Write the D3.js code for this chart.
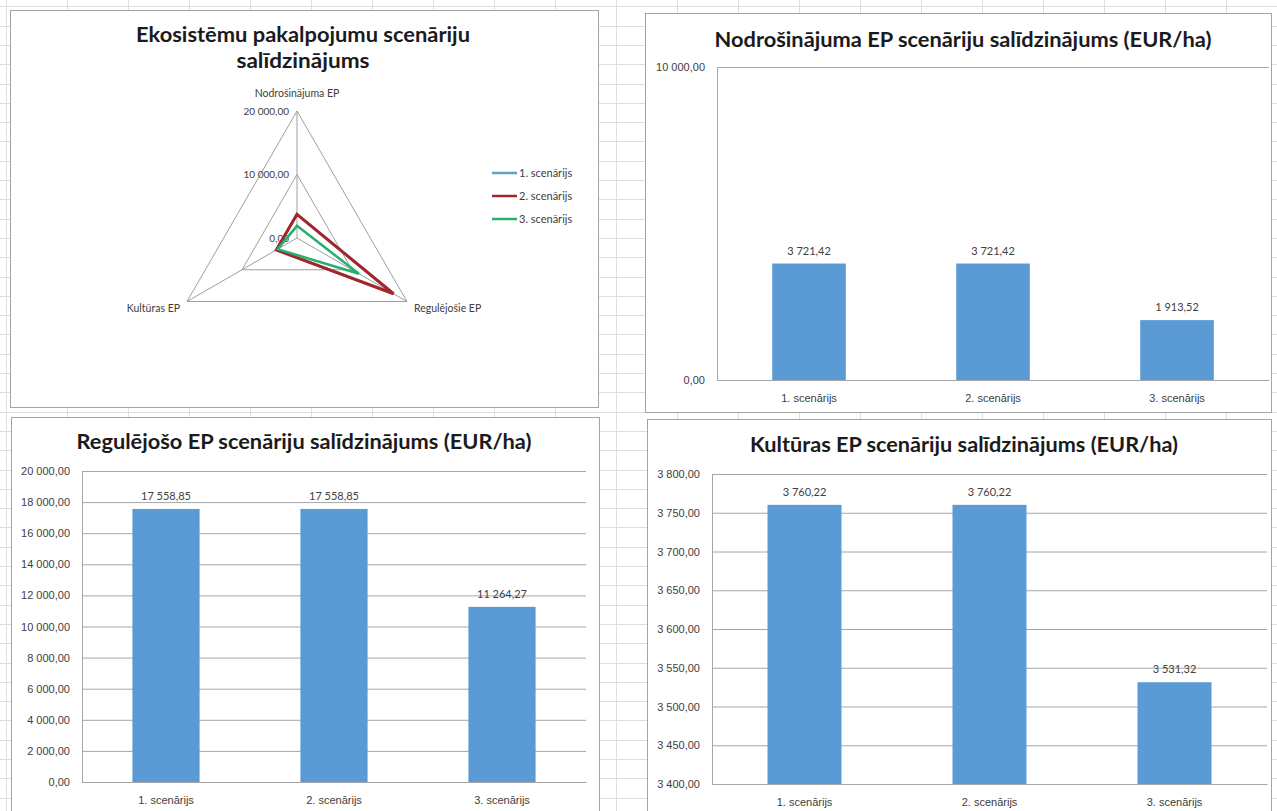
<!DOCTYPE html>
<html>
<head>
<meta charset="utf-8">
<script src="https://cdn.jsdelivr.net/npm/d3@7"></script>
<style>
  body { margin: 0; background: #fff; }
  svg { display: block; font-family: Lato, "Open Sans", sans-serif; }
</style>
</head>
<body>
<svg id="sheet" width="1277" height="811"></svg>
<script>
// ---- data ----
const scenarios = ["1. scenārijs", "2. scenārijs", "3. scenārijs"];
const radarAxes = ["Nodrošinājuma EP", "Regulējošie EP", "Kultūras EP"];
const nodrosinajumaEP = [3721.42, 3721.42, 1913.52];
const regulejosieEP = [17558.85, 17558.85, 11264.27];
const kulturasEP = [3760.22, 3760.22, 3531.32];
const radarTicks = [0, 10000, 20000];
const nodTicks = [0, 10000];
const regTicks = [0, 2000, 4000, 6000, 8000, 10000, 12000, 14000, 16000, 18000, 20000];
const kulTicks = [3400, 3450, 3500, 3550, 3600, 3650, 3700, 3750, 3800];
const seriesColors = ["#5fa3bd", "#a2262b", "#26b06e"];
const barColor = "#5b9bd5";

const lv = d3.formatLocale({ decimal: ",", thousands: " ", grouping: [3], currency: ["", " €"] });
const fmt = lv.format(",.2f");

const svg = d3.select("#sheet");

// ---- worksheet cell grid behind the charts ----
const cells = svg.append("g").attr("stroke", "#dedede").attr("stroke-width", 1);
cells.selectAll("line.col").data(d3.range(0, 22)).join("line")
  .attr("x1", d => 6.5 + 61 * d).attr("x2", d => 6.5 + 61 * d)
  .attr("y1", 0).attr("y2", 811);
cells.selectAll("line.row").data(d3.range(0, 43)).join("line")
  .attr("x1", 0).attr("x2", 1277)
  .attr("y1", d => Math.round(6.3 + 19.3 * d) + 0.5).attr("y2", d => Math.round(6.3 + 19.3 * d) + 0.5);

function chartBox(b) {
  svg.append("rect")
    .attr("x", b.x + 0.5).attr("y", b.y + 0.5).attr("width", b.w).attr("height", b.h)
    .attr("fill", "#fff").attr("stroke", "#a3a3a3").attr("stroke-width", 1);
}

function title(txt, x, y, width) {
  svg.append("text").attr("x", x).attr("y", y)
    .attr("text-anchor", "middle").attr("font-size", 21).attr("font-weight", 700)
    .attr("fill", "#1b1b1b")
    .attr("textLength", width).attr("lengthAdjust", "spacingAndGlyphs")
    .text(txt);
}

// ---- column charts ----
function barChart(o) {
  chartBox(o.box);
  title(o.title, o.titleX, o.titleY, o.titleW);
  const g = svg.append("g");
  const x = d3.scaleBand().domain(scenarios).range([o.x0, o.x1]).paddingInner(0.6).paddingOuter(0.3);
  const y = d3.scaleLinear().domain([o.ticks[0], o.ticks[o.ticks.length - 1]]).range([o.yBottom, o.yTop]);

  const ya = g.append("g").attr("transform", `translate(${o.x0},0)`)
    .call(d3.axisLeft(y).tickValues(o.ticks).tickFormat(fmt).tickSize(-(o.x1 - o.x0)).tickPadding(12));
  ya.select(".domain").attr("stroke", "#a6a6a6");
  ya.selectAll(".tick line").attr("stroke", "#a6a6a6");
  ya.selectAll(".tick text").attr("fill", "#404040").attr("font-size", 11);

  g.selectAll("rect.bar").data(o.values).join("rect")
    .attr("class", "bar")
    .attr("x", (d, i) => x(scenarios[i]))
    .attr("width", x.bandwidth())
    .attr("y", d => y(d))
    .attr("height", d => y(o.ticks[0]) - y(d))
    .attr("fill", barColor);

  const xa = g.append("g").attr("transform", `translate(0,${o.yBottom})`)
    .call(d3.axisBottom(x).tickSize(0).tickPadding(14));
  xa.select(".domain").attr("stroke", "#a6a6a6");
  xa.selectAll(".tick text").attr("fill", "#404040").attr("font-size", 11);

  g.selectAll("text.val").data(o.values).join("text")
    .attr("class", "val")
    .attr("x", (d, i) => x(scenarios[i]) + x.bandwidth() / 2)
    .attr("y", d => y(d) - 9)
    .attr("text-anchor", "middle").attr("font-size", 11).attr("fill", "#404040")
    .text(d => fmt(d));
}

barChart({
  box: { x: 645, y: 13, w: 626, h: 399 },
  title: "Nodrošinājuma EP scenāriju salīdzinājums (EUR/ha)", titleX: 963, titleY: 47, titleW: 497,
  x0: 717, x1: 1269, yTop: 67, yBottom: 380,
  ticks: nodTicks, values: nodrosinajumaEP
});

barChart({
  box: { x: 11, y: 417, w: 588, h: 420 },
  title: "Regulējošo EP scenāriju salīdzinājums (EUR/ha)", titleX: 304, titleY: 449, titleW: 455,
  x0: 82, x1: 586, yTop: 471, yBottom: 782,
  ticks: regTicks, values: regulejosieEP
});

barChart({
  box: { x: 647, y: 419, w: 624, h: 420 },
  title: "Kultūras EP scenāriju salīdzinājums (EUR/ha)", titleX: 964, titleY: 452, titleW: 428,
  x0: 712, x1: 1267, yTop: 474, yBottom: 784,
  ticks: kulTicks, values: kulturasEP
});

// ---- radar chart ----
chartBox({ x: 10, y: 10, w: 588, h: 397 });
svg.append("text").attr("x", 303).attr("y", 42).attr("text-anchor", "middle")
  .attr("font-size", 21).attr("font-weight", 700).attr("fill", "#1b1b1b")
  .attr("textLength", 334).attr("lengthAdjust", "spacingAndGlyphs")
  .text("Ekosistēmu pakalpojumu scenāriju");
svg.append("text").attr("x", 303).attr("y", 68).attr("text-anchor", "middle")
  .attr("font-size", 21).attr("font-weight", 700).attr("fill", "#1b1b1b")
  .attr("textLength", 133).attr("lengthAdjust", "spacingAndGlyphs")
  .text("salīdzinājums");

const cx = 297, cy = 238;
const r = d3.scaleLinear().domain([0, 20000]).range([0, 127]);
const ang = i => -Math.PI / 2 + i * 2 * Math.PI / radarAxes.length;
const pt = (i, v) => [cx + r(v) * Math.cos(ang(i)), cy + r(v) * Math.sin(ang(i))];
const rg = svg.append("g");

// rings and spokes
rg.selectAll("path.ring").data(radarTicks.filter(t => t > 0)).join("path")
  .attr("d", t => d3.line()(radarAxes.map((a, i) => pt(i, t))) + "Z")
  .attr("fill", "none").attr("stroke", "#9f9f9f").attr("stroke-width", 1);
rg.selectAll("line.spoke").data(radarAxes).join("line")
  .attr("x1", cx).attr("y1", cy)
  .attr("x2", (a, i) => pt(i, radarTicks[radarTicks.length - 1])[0])
  .attr("y2", (a, i) => pt(i, radarTicks[radarTicks.length - 1])[1])
  .attr("stroke", "#9f9f9f").attr("stroke-width", 1);

// tick labels along the top spoke
rg.selectAll("text.rt").data(radarTicks).join("text")
  .attr("x", cx - 8).attr("y", t => cy - r(t)).attr("dy", "0.35em")
  .attr("text-anchor", "end").attr("font-size", 10).attr("fill", "#404040")
  .text(t => fmt(t));

// axis labels
const axisLabelPos = [
  { dx: 0, dy: -14, anchor: "middle" },
  { dx: 7, dy: 10, anchor: "start" },
  { dx: -7, dy: 10, anchor: "end" }
];
rg.selectAll("text.ax").data(radarAxes).join("text")
  .attr("x", (a, i) => pt(i, 20000)[0] + axisLabelPos[i].dx)
  .attr("y", (a, i) => pt(i, 20000)[1] + axisLabelPos[i].dy)
  .attr("text-anchor", (a, i) => axisLabelPos[i].anchor)
  .attr("font-size", 10.5).attr("fill", "#404040")
  .text(a => a);

// series polygons: values per scenario across the three axes
const seriesValues = scenarios.map((s, k) => [nodrosinajumaEP[k], regulejosieEP[k], kulturasEP[k]]);
rg.selectAll("path.series").data(seriesValues).join("path")
  .attr("d", vals => d3.line()(vals.map((v, i) => pt(i, v))) + "Z")
  .attr("fill", "none")
  .attr("stroke", (d, k) => seriesColors[k])
  .attr("stroke-width", (d, k) => k === 1 ? 3 : 2.5)
  .attr("stroke-linejoin", "miter");

// legend
const lg = svg.append("g");
const legY = [173, 196, 219];
scenarios.forEach((s, k) => {
  lg.append("line").attr("x1", 492).attr("x2", 517).attr("y1", legY[k]).attr("y2", legY[k])
    .attr("stroke", seriesColors[k]).attr("stroke-width", 2.5);
  lg.append("text").attr("x", 519).attr("y", legY[k]).attr("dy", "0.35em")
    .attr("font-size", 11).attr("fill", "#404040").text(s);
});
</script>
</body>
</html>
